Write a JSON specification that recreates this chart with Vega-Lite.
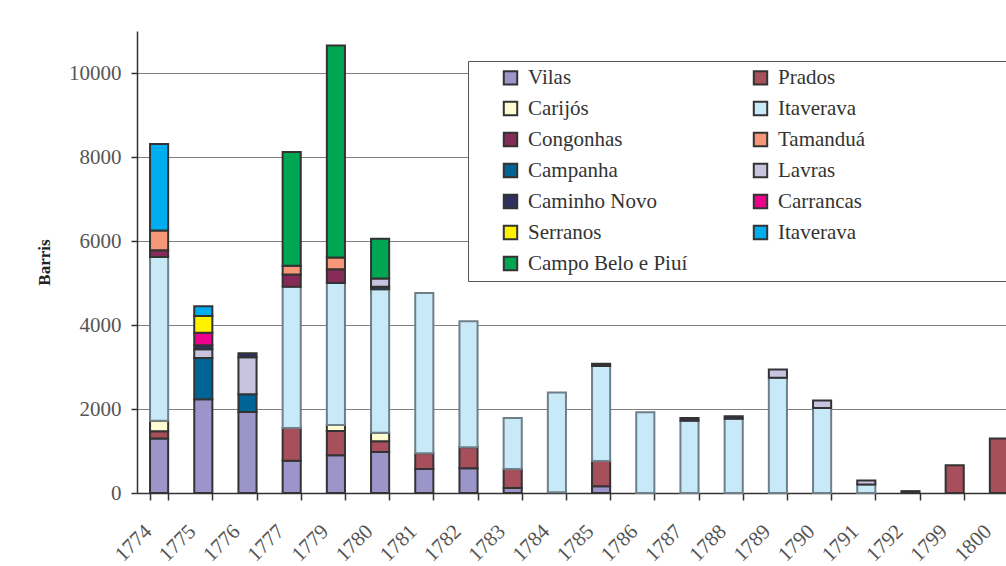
{
  "$schema": "https://vega.github.io/schema/vega-lite/v6.json",
  "width": 884,
  "height": 462,
  "autosize": {"type": "none"},
  "padding": {"left": 137, "top": 31, "right": 0, "bottom": 73},
  "background": "white",
  "config": {
    "view": {"stroke": null},
    "font": "Liberation Serif",
    "axis": {"labelFont": "Liberation Serif", "titleFont": "Liberation Serif"},
    "legend": {"labelFont": "Liberation Serif"}
  },
  "data": {
    "values": [
      {"year": "1774", "region": "Vilas", "value": 1300},
      {"year": "1774", "region": "Prados", "value": 170},
      {"year": "1774", "region": "Carijós", "value": 250},
      {"year": "1774", "region": "Itaverava", "value": 3900},
      {"year": "1774", "region": "Congonhas", "value": 160},
      {"year": "1774", "region": "Tamanduá", "value": 470},
      {"year": "1774", "region": "Itaverava (2)", "value": 2060},
      {"year": "1775", "region": "Vilas", "value": 2230},
      {"year": "1775", "region": "Campanha", "value": 985},
      {"year": "1775", "region": "Lavras", "value": 205},
      {"year": "1775", "region": "Caminho Novo", "value": 95},
      {"year": "1775", "region": "Carrancas", "value": 300},
      {"year": "1775", "region": "Serranos", "value": 400},
      {"year": "1775", "region": "Itaverava (2)", "value": 230},
      {"year": "1776", "region": "Vilas", "value": 1930},
      {"year": "1776", "region": "Campanha", "value": 420},
      {"year": "1776", "region": "Lavras", "value": 880},
      {"year": "1776", "region": "Caminho Novo", "value": 95},
      {"year": "1777", "region": "Vilas", "value": 770},
      {"year": "1777", "region": "Prados", "value": 780},
      {"year": "1777", "region": "Itaverava", "value": 3360},
      {"year": "1777", "region": "Congonhas", "value": 295},
      {"year": "1777", "region": "Tamanduá", "value": 205},
      {"year": "1777", "region": "Campo Belo e Piuí", "value": 2710},
      {"year": "1779", "region": "Vilas", "value": 900},
      {"year": "1779", "region": "Prados", "value": 575},
      {"year": "1779", "region": "Carijós", "value": 145},
      {"year": "1779", "region": "Itaverava", "value": 3380},
      {"year": "1779", "region": "Congonhas", "value": 325},
      {"year": "1779", "region": "Tamanduá", "value": 280},
      {"year": "1779", "region": "Campo Belo e Piuí", "value": 5050},
      {"year": "1780", "region": "Vilas", "value": 975},
      {"year": "1780", "region": "Prados", "value": 255},
      {"year": "1780", "region": "Carijós", "value": 205},
      {"year": "1780", "region": "Itaverava", "value": 3415},
      {"year": "1780", "region": "Campanha", "value": 60},
      {"year": "1780", "region": "Lavras", "value": 200},
      {"year": "1780", "region": "Campo Belo e Piuí", "value": 945},
      {"year": "1781", "region": "Vilas", "value": 570},
      {"year": "1781", "region": "Prados", "value": 375},
      {"year": "1781", "region": "Itaverava", "value": 3815},
      {"year": "1782", "region": "Vilas", "value": 587},
      {"year": "1782", "region": "Prados", "value": 500},
      {"year": "1782", "region": "Itaverava", "value": 3000},
      {"year": "1783", "region": "Vilas", "value": 120},
      {"year": "1783", "region": "Prados", "value": 450},
      {"year": "1783", "region": "Itaverava", "value": 1215},
      {"year": "1784", "region": "Vilas", "value": 20},
      {"year": "1784", "region": "Itaverava", "value": 2370},
      {"year": "1785", "region": "Vilas", "value": 160},
      {"year": "1785", "region": "Prados", "value": 600},
      {"year": "1785", "region": "Itaverava", "value": 2265},
      {"year": "1785", "region": "Caminho Novo", "value": 55},
      {"year": "1786", "region": "Itaverava", "value": 1920},
      {"year": "1787", "region": "Itaverava", "value": 1720},
      {"year": "1787", "region": "Caminho Novo", "value": 65},
      {"year": "1788", "region": "Itaverava", "value": 1765},
      {"year": "1788", "region": "Caminho Novo", "value": 60},
      {"year": "1789", "region": "Itaverava", "value": 2745},
      {"year": "1789", "region": "Lavras", "value": 195},
      {"year": "1790", "region": "Itaverava", "value": 2025},
      {"year": "1790", "region": "Lavras", "value": 180},
      {"year": "1791", "region": "Itaverava", "value": 205},
      {"year": "1791", "region": "Lavras", "value": 90},
      {"year": "1792", "region": "Caminho Novo", "value": 45},
      {"year": "1799", "region": "Prados", "value": 660},
      {"year": "1800", "region": "Prados", "value": 1295}
    ]
  },
  "transform": [
    {"calculate": "indexof(['Vilas','Prados','Carijós','Itaverava','Congonhas','Tamanduá','Campanha','Lavras','Caminho Novo','Carrancas','Serranos','Itaverava (2)','Campo Belo e Piuí'], datum.region)", "as": "stackOrder"}
  ],
  "mark": {"type": "bar", "strokeWidth": 2},
  "encoding": {
    "x": {
      "field": "year",
      "type": "ordinal",
      "scale": {"paddingInner": 0.59, "paddingOuter": 0.295},
      "axis": {
        "title": null,
        "labelAngle": -45,
        "labelAlign": "right",
        "labelBaseline": "middle",
        "labelFontSize": 21,
        "labelColor": "#555555",
        "labelPadding": 28,
        "labelOffset": -11,
        "tickBand": "extent",
        "tickSize": 7,
        "tickColor": "#333333",
        "domainColor": "#333333",
        "domainWidth": 1.5,
        "tickWidth": 1.5
      }
    },
    "y": {
      "field": "value",
      "type": "quantitative",
      "stack": "zero",
      "scale": {"domain": [0, 11000], "nice": false},
      "axis": {
        "title": "Barris",
        "titleFontSize": 17,
        "titleFontWeight": "bold",
        "titleColor": "#222222",
        "titlePadding": 15,
        "values": [0, 2000, 4000, 6000, 8000, 10000],
        "format": "d",
        "labelFontSize": 21,
        "labelColor": "#555555",
        "labelPadding": 10,
        "tickSize": 6,
        "tickColor": "#333333",
        "tickWidth": 1.5,
        "domainColor": "#333333",
        "domainWidth": 1.5,
        "grid": true,
        "gridColor": "#7f7f7f",
        "gridWidth": 1.2
      }
    },
    "color": {
      "field": "region",
      "type": "nominal",
      "scale": {
        "domain": ["Vilas", "Prados", "Carijós", "Itaverava", "Congonhas", "Tamanduá", "Campanha", "Lavras", "Caminho Novo", "Carrancas", "Serranos", "Itaverava (2)", "Campo Belo e Piuí"],
        "range": ["#9b95c9", "#a84f5c", "#fffbd0", "#c8e9f8", "#862a57", "#f7977a", "#006496", "#c8c4e0", "#2f2f62", "#ec008c", "#fff200", "#00aeef", "#00a651"]
      },
      "legend": {
        "title": null,
        "orient": "none",
        "legendX": 331,
        "legendY": 30,
        "columns": 2,
        "direction": "horizontal",
        "padding": 6,
        "rowPadding": 8,
        "columnPadding": 36,
        "symbolOffset": 26,
        "symbolType": "square",
        "symbolSize": 180,
        "symbolStrokeColor": "#333333",
        "symbolStrokeWidth": 2,
        "labelFont": "Liberation Serif",
        "labelFontSize": 21,
        "labelColor": "#333333",
        "labelOffset": 7,
        "labelLimit": 800,
        "strokeColor": "#555555",
        "fillColor": "white",
        "labelExpr": "datum.label == 'Itaverava (2)' ? 'Itaverava' : (datum.label == 'Prados' ? 'Prados\u00a0\u00a0\u00a0\u00a0\u00a0\u00a0\u00a0\u00a0\u00a0\u00a0\u00a0\u00a0\u00a0\u00a0\u00a0\u00a0\u00a0\u00a0\u00a0\u00a0\u00a0\u00a0\u00a0\u00a0\u00a0\u00a0\u00a0\u00a0\u00a0\u00a0\u00a0\u00a0\u00a0\u00a0\u00a0\u00a0\u00a0\u00a0\u00a0\u00a0\u00a0\u00a0\u00a0\u00a0\u00a0\u00a0\u200b' : datum.label)"
      }
    },
    "order": {"field": "stackOrder", "type": "quantitative"},
    "stroke": {
      "condition": {"test": "datum.region === 'Itaverava'", "value": "#6f7f88"},
      "value": "#333333"
    }
  }
}
